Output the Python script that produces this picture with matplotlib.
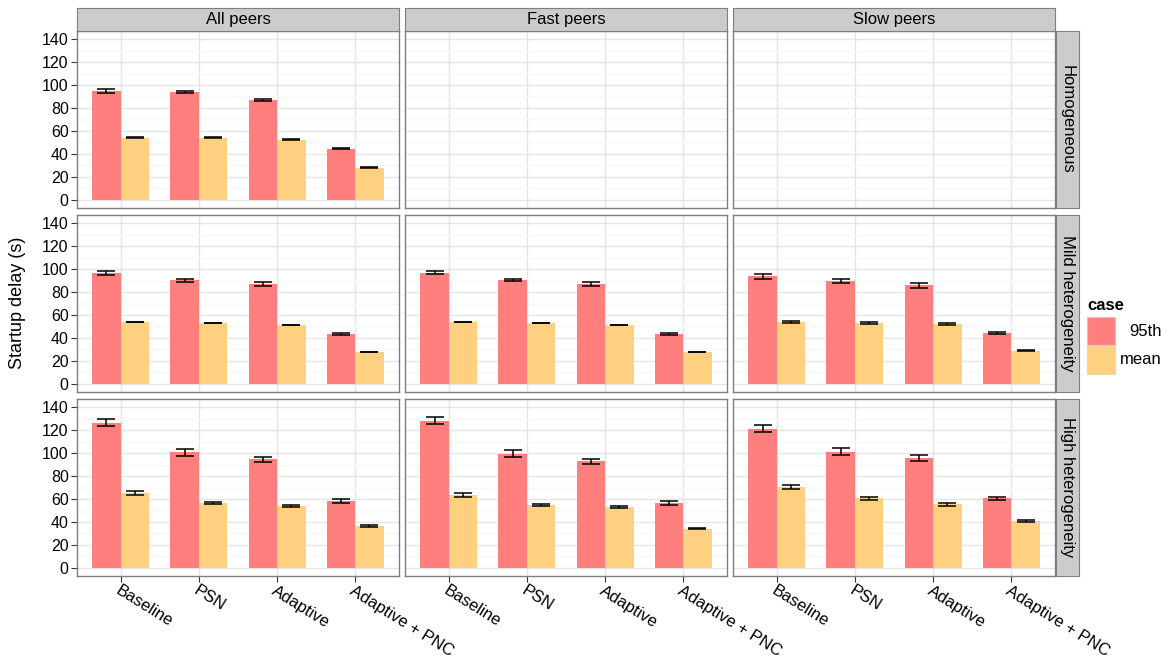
import numpy as np
import matplotlib
matplotlib.use("Agg")
from matplotlib import pyplot as plt
from matplotlib.patches import Rectangle

plt.rcParams['font.family'] = ['Liberation Sans', 'DejaVu Sans']

methods = ['Baseline', 'PSN', 'Adaptive', 'Adaptive + PNC']
rows = ['Homogeneous', 'Mild heterogeneity', 'High heterogeneity']
cols = ['All peers', 'Fast peers', 'Slow peers']
cases = ['95th', 'mean']

# homogeneous (only "All peers" has data)
hom_all_95 = [94.8, 94.0, 87.0, 44.7]
hom_all_95_err = [1.4, 1.2, 1.0, 0.7]
hom_all_mean = [54.2, 54.2, 52.4, 28.2]
hom_all_mean_err = [0.3, 0.3, 0.3, 0.3]

# mild heterogeneity
mild_all_95 = [96.3, 90.2, 86.7, 43.5]
mild_all_95_err = [1.6, 1.4, 1.6, 1.1]
mild_all_mean = [53.9, 53.0, 51.3, 28.0]
mild_all_mean_err = [0.4, 0.3, 0.3, 0.2]
mild_fast_95 = [96.6, 90.3, 86.8, 43.4]
mild_fast_95_err = [1.3, 1.0, 1.9, 1.2]
mild_fast_mean = [53.9, 53.0, 51.2, 27.7]
mild_fast_mean_err = [0.4, 0.3, 0.3, 0.2]
mild_slow_95 = [93.7, 89.3, 85.9, 44.4]
mild_slow_95_err = [2.3, 1.7, 2.2, 1.2]
mild_slow_mean = [53.9, 53.0, 52.2, 28.8]
mild_slow_mean_err = [0.6, 0.5, 0.5, 0.3]

# high heterogeneity
high_all_95 = [126.3, 100.5, 94.4, 58.3]
high_all_95_err = [3.0, 2.7, 2.3, 1.8]
high_all_mean = [65.6, 56.6, 53.8, 36.5]
high_all_mean_err = [1.7, 1.2, 1.0, 0.5]
high_fast_95 = [128.1, 99.6, 92.7, 56.4]
high_fast_95_err = [3.0, 2.8, 2.2, 1.9]
high_fast_mean = [63.3, 54.7, 53.0, 34.0]
high_fast_mean_err = [1.7, 0.8, 0.8, 0.5]
high_slow_95 = [121.2, 101.3, 96.1, 60.7]
high_slow_95_err = [3.3, 3.3, 2.6, 1.4]
high_slow_mean = [70.2, 60.7, 55.5, 40.9]
high_slow_mean_err = [1.7, 1.2, 1.2, 0.5]

panels = {
    (0, 0): (hom_all_95, hom_all_95_err, hom_all_mean, hom_all_mean_err),
    (1, 0): (mild_all_95, mild_all_95_err, mild_all_mean, mild_all_mean_err),
    (1, 1): (mild_fast_95, mild_fast_95_err, mild_fast_mean, mild_fast_mean_err),
    (1, 2): (mild_slow_95, mild_slow_95_err, mild_slow_mean, mild_slow_mean_err),
    (2, 0): (high_all_95, high_all_95_err, high_all_mean, high_all_mean_err),
    (2, 1): (high_fast_95, high_fast_95_err, high_fast_mean, high_fast_mean_err),
    (2, 2): (high_slow_95, high_slow_95_err, high_slow_mean, high_slow_mean_err),
}

red = '#FF7F7F'
yellow = '#FED07F'
border = '#7F7F7F'
W, H = 1170, 661

fig = plt.figure(figsize=(11.7, 6.61), dpi=100)
gs = fig.add_gridspec(3, 3, left=77/W, right=1055/W, top=1-31/H, bottom=1-576/H,
                      wspace=0.019, hspace=0.04)

x = np.arange(len(methods))
bw = 0.365
for r in range(3):
    for c in range(3):
        ax = fig.add_subplot(gs[r, c])
        ax.set_xlim(-0.56, 3.56)
        ax.set_ylim(-7, 147)
        ax.set_yticks(np.arange(0, 141, 20))
        ax.set_yticks(np.arange(10, 141, 20), minor=True)
        ax.set_xticks(x)
        ax.grid(which='major', color='#E5E5E5', lw=1.0, zorder=0)
        ax.grid(which='minor', axis='y', color='#F7F7F7', lw=1.0, zorder=0)
        ax.set_axisbelow(True)
        for s in ax.spines.values():
            s.set_color(border)
            s.set_linewidth(1.0)
        ax.tick_params(which='minor', length=0)
        ax.tick_params(which='major', length=4, width=0.8, color='#333333',
                       labelsize=11.5, labelcolor='black', pad=2)
        if c == 0:
            ax.set_yticklabels([str(v) for v in range(0, 141, 20)])
        else:
            ax.tick_params(axis='y', length=0, labelleft=False)
        if r == 2:
            ax.set_xticklabels(methods, rotation=-32, ha='left', va='top',
                               rotation_mode='anchor', fontsize=12)
            ax.tick_params(axis='x', pad=1)
        else:
            ax.tick_params(axis='x', length=0, labelbottom=False)

        if (r, c) in panels:
            p95, p95e, pm, pme = panels[(r, c)]
            ax.bar(x - bw/2, p95, bw, color=red, zorder=2)
            ax.bar(x + bw/2, pm, bw, color=yellow, zorder=2)
            ax.errorbar(x - bw/2, p95, yerr=p95e, fmt='none', ecolor='black',
                        elinewidth=1.1, capsize=6.3, capthick=1.1, zorder=3)
            ax.errorbar(x + bw/2, pm, yerr=pme, fmt='none', ecolor='black',
                        elinewidth=1.1, capsize=6.3, capthick=1.1, zorder=3)

        pos = ax.get_position()
        if r == 0:
            sax = fig.add_axes([pos.x0, pos.y1, pos.width, 23/H])
            sax.set_facecolor('#CCCCCC')
            sax.set_xticks([]); sax.set_yticks([])
            for s in sax.spines.values():
                s.set_color(border)
            sax.text(0.5, 0.5, cols[c], ha='center', va='center', fontsize=12)
        if c == 2:
            sax = fig.add_axes([pos.x1 + 1/W, pos.y0, 23/W, pos.height])
            sax.set_facecolor('#CCCCCC')
            sax.set_xticks([]); sax.set_yticks([])
            for s in sax.spines.values():
                s.set_color(border)
            sax.text(0.5, 0.5, rows[r], ha='center', va='center', fontsize=12,
                     rotation=-90)

fig.text(18/W, 1-303/H, 'Startup delay (s)', rotation=90, ha='center', va='center',
         fontsize=13)

# legend
fig.text(1087/W, 1-305/H, 'case', fontweight='bold', fontsize=12, ha='left', va='center')
for i, (lab, col) in enumerate(zip(cases, [red, yellow])):
    y0 = 1 - (345 + i*29)/H
    fig.add_artist(Rectangle((1087/W, y0), 28/W, 28/H, transform=fig.transFigure,
                             facecolor=col, edgecolor='#F2B9B9' if i == 0 else '#F2D7A6', lw=0.8))
    fig.text(1162/W, y0 + 14/H, lab, ha='right', va='center', fontsize=12)

fig.savefig('out.png', dpi=100)
